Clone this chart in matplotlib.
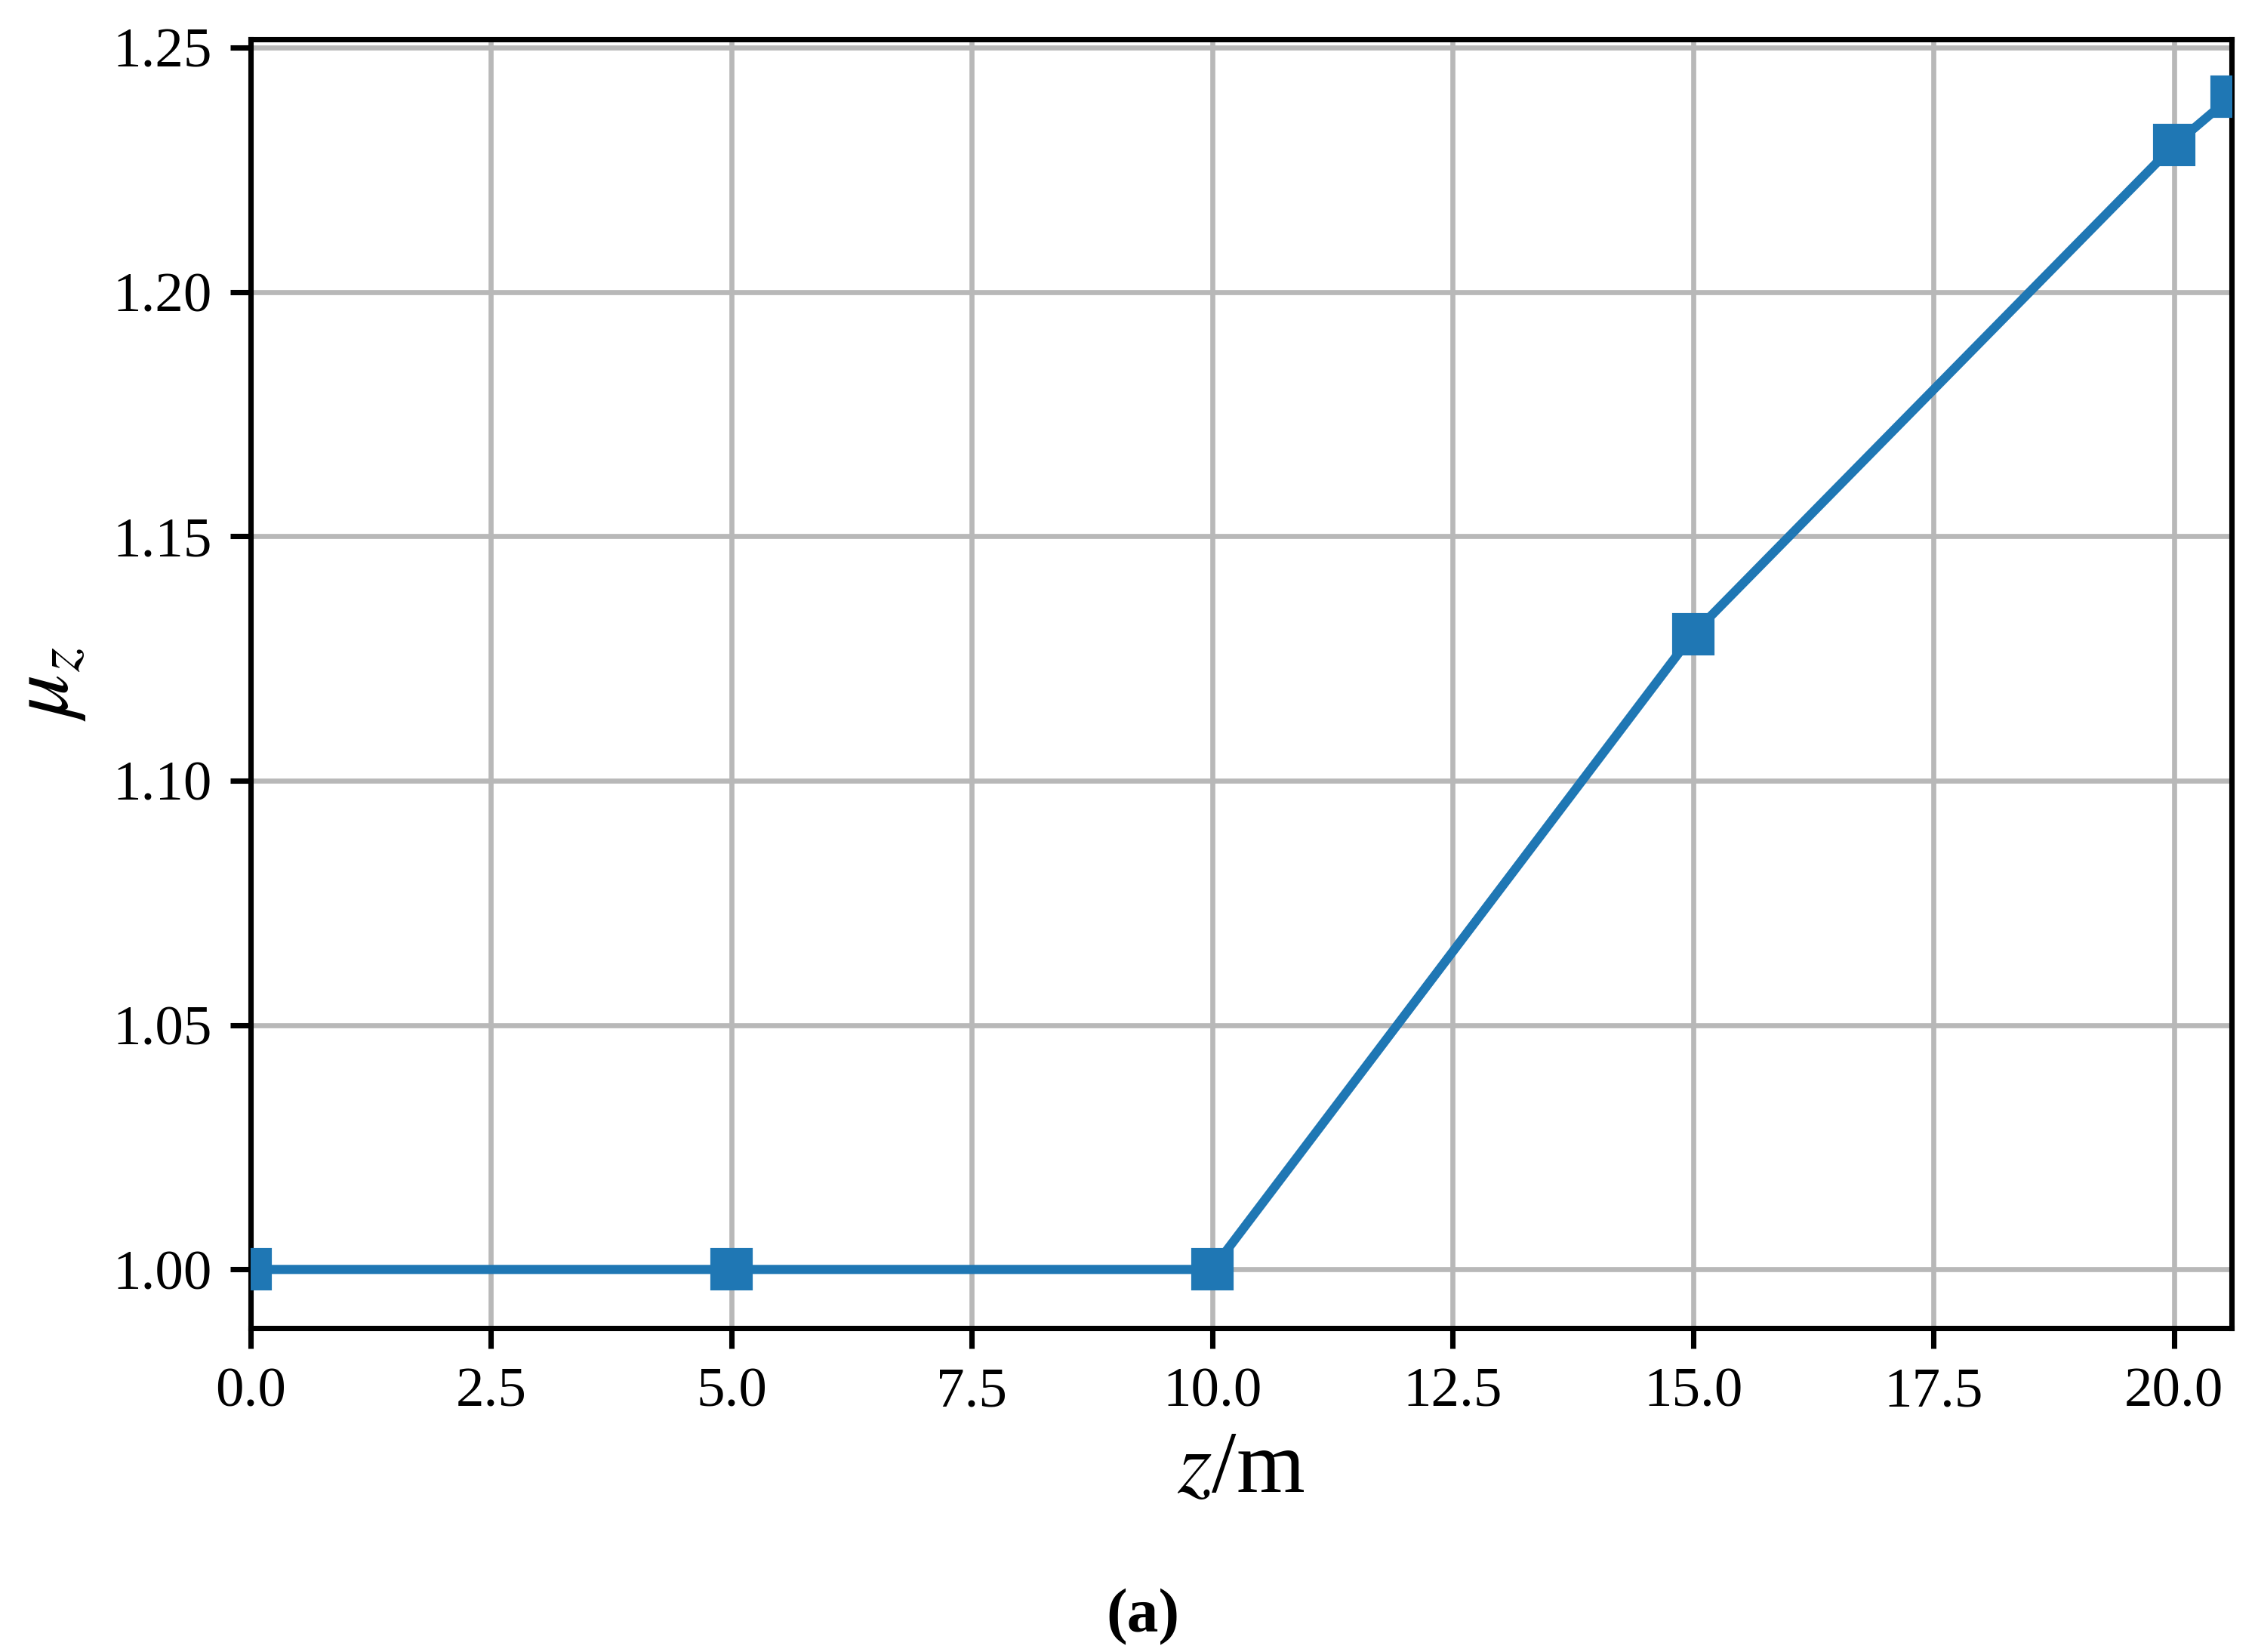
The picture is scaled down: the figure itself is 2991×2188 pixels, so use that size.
import matplotlib
matplotlib.use("Agg")
import matplotlib.pyplot as plt

# Data
z_m = [0.0, 5.0, 10.0, 15.0, 20.0, 20.6]
mu_z = [1.00, 1.00, 1.00, 1.13, 1.23, 1.24]
x_ticks = [0.0, 2.5, 5.0, 7.5, 10.0, 12.5, 15.0, 17.5, 20.0]
y_ticks = [1.00, 1.05, 1.10, 1.15, 1.20, 1.25]

plt.rcParams['font.family'] = ['Liberation Serif', 'DejaVu Serif']
plt.rcParams['mathtext.fontset'] = 'stix'

fig = plt.figure(figsize=(2991 / 300, 2188 / 300), dpi=300)
ax = fig.add_axes([332 / 2991, 1 - 1759 / 2188, (2956 - 332) / 2991, (1759 - 52) / 2188])

ax.plot(z_m, mu_z, color='#1f77b4', linewidth=2.9, marker='s', markersize=12.5,
        clip_on=True, zorder=3)

ax.set_xlim(0, 20.6)
ax.set_ylim(0.988, 1.2517)
ax.set_xticks(x_ticks)
ax.set_yticks(y_ticks)
ax.set_xticklabels([f"{v:.1f}" for v in x_ticks])
ax.set_yticklabels([f"{v:.2f}" for v in y_ticks])

ax.grid(True, color='#b8b8b8', linewidth=1.6)
ax.set_axisbelow(True)
for s in ax.spines.values():
    s.set_linewidth(1.7)
ax.tick_params(axis='both', labelsize=18, length=6.4, width=1.7, pad=6)

ax.set_xlabel(r'$z$/m', fontsize=28, labelpad=4)
ax.set_ylabel(r'$\mu_z$', fontsize=28, labelpad=8)

fig.text(1514 / 2991, 1 - 2142 / 2188, '(a)', ha='center', va='center', fontsize=20, fontweight='bold')

fig.savefig('out.png', dpi=300)
